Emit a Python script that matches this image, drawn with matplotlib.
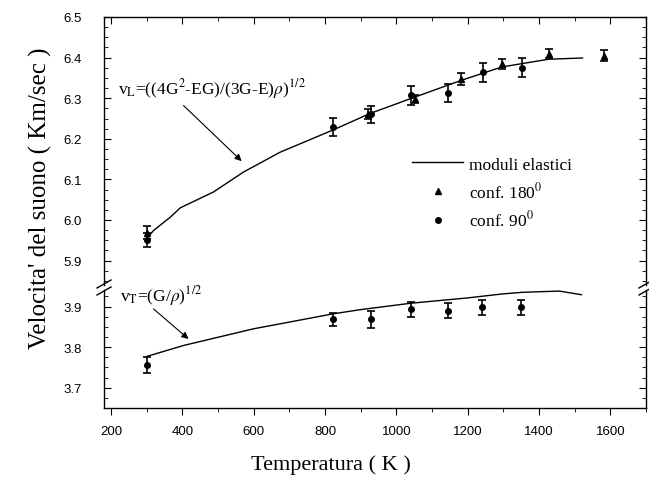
import matplotlib
matplotlib.use("Agg")
import matplotlib.pyplot as plt
from matplotlib.lines import Line2D
from matplotlib.ticker import MultipleLocator, FormatStrFormatter

# ---------------- data ----------------
# longitudinal velocity (upper panel)
curveL_T = [300, 320, 366, 394, 487, 571, 674, 823, 925, 1040, 1182, 1296, 1351, 1427, 1522]
curveL_V = [5.955, 5.975, 6.007, 6.030, 6.069, 6.118, 6.167, 6.222, 6.262, 6.299, 6.344, 6.377, 6.385, 6.396, 6.399]

triL_T = [300, 920, 1053, 1182, 1296, 1427, 1583]
triL_V = [5.968, 6.262, 6.299, 6.348, 6.385, 6.410, 6.405]
triL_E = [0.016, 0.012, 0.010, 0.015, 0.012, 0.012, 0.013]

cirL_T = [300, 823, 930, 1040, 1146, 1242, 1351]
cirL_V = [5.951, 6.229, 6.260, 6.307, 6.313, 6.364, 6.375]
cirL_E = [0.017, 0.022, 0.020, 0.024, 0.022, 0.023, 0.024]

# transverse velocity (lower panel)
curveT_T = [300, 403, 599, 823, 897, 1040, 1198, 1298, 1354, 1457, 1519]
curveT_V = [3.777, 3.804, 3.845, 3.882, 3.892, 3.908, 3.921, 3.931, 3.935, 3.938, 3.929]

cirT_T = [300, 823, 930, 1040, 1146, 1241, 1350]
cirT_V = [3.755, 3.868, 3.868, 3.893, 3.890, 3.898, 3.898]
cirT_E = [0.020, 0.017, 0.020, 0.018, 0.018, 0.018, 0.018]

legend_labels = ['moduli elastici', r'conf. 180$^0$', r'conf. 90$^0$']
label_L = r'v$_\mathrm{L}$=((4G$^2$-EG)/(3G-E)$\rho$)$^{1/2}$'
label_T = r'v$_\mathrm{T}$=(G/$\rho$)$^{1/2}$'

# ---------------- figure ----------------
W, H = 649, 485
fig = plt.figure(figsize=(W / 100, H / 100), dpi=100)
plt.rcParams['mathtext.fontset'] = 'stix'

serif = ['Liberation Serif', 'DejaVu Serif']
tickfont = ['Liberation Sans', 'DejaVu Sans']

left, right = 104, 646
top, brk_up, brk_lo, bottom = 18, 286, 291, 409

def fx(px):
    return px / W

def fy(py):
    return 1 - py / H

axU = fig.add_axes([fx(left), fy(brk_up), fx(right - left), (brk_up - top) / H])
axL = fig.add_axes([fx(left), fy(bottom), fx(right - left), (bottom - brk_lo) / H])

pxpu = 406.0  # pixels per unit velocity
axU.set_ylim(6.5 - (brk_up - top) / pxpu, 6.5)
axL.set_ylim(3.65, 3.65 + (bottom - brk_lo) / pxpu)
for ax in (axU, axL):
    ax.set_xlim(180, 1700)
    ax.yaxis.set_major_locator(MultipleLocator(0.1))
    ax.yaxis.set_minor_locator(MultipleLocator(0.025))
    ax.yaxis.set_major_formatter(FormatStrFormatter('%.1f'))
    ax.xaxis.set_major_locator(MultipleLocator(200))
    ax.xaxis.set_minor_locator(MultipleLocator(100))
    for sp in ax.spines.values():
        sp.set_linewidth(1.0)

axU.spines['bottom'].set_visible(False)
axL.spines['top'].set_visible(False)
axU.tick_params(axis='x', which='both', bottom=False, labelbottom=False, top=True, direction='in')
axU.tick_params(axis='x', which='major', length=5)
axU.tick_params(axis='x', which='minor', length=3)
for ax in (axU, axL):
    ax.tick_params(axis='y', which='both', left=True, right=True, direction='in',
                   labelsize=9.5, pad=16)
    ax.tick_params(axis='y', which='major', length=5)
    ax.tick_params(axis='y', which='minor', length=3)
axL.tick_params(axis='x', which='both', bottom=True, top=False, direction='out',
                labelsize=9.5, pad=7)
axL.tick_params(axis='x', which='major', length=5)
axL.tick_params(axis='x', which='minor', length=3)
for ax in (axU, axL):
    for lab in ax.get_yticklabels() + ax.get_xticklabels():
        lab.set_family(tickfont)

# curves and data
axU.plot(curveL_T, curveL_V, color='black', lw=1.0)
axU.errorbar(triL_T, triL_V, yerr=triL_E, fmt='^', color='black', ms=4,
             capsize=3, elinewidth=1.2, capthick=1.2)
axU.errorbar(cirL_T, cirL_V, yerr=cirL_E, fmt='o', color='black', ms=4,
             capsize=3, elinewidth=1.2, capthick=1.2)
axL.plot(curveT_T, curveT_V, color='black', lw=1.0)
axL.errorbar(cirT_T, cirT_V, yerr=cirT_E, fmt='o', color='black', ms=4,
             capsize=3, elinewidth=1.2, capthick=1.2)

# legend
handles = [Line2D([], [], color='black', lw=1.0),
           Line2D([], [], color='black', marker='^', ls='none', ms=4),
           Line2D([], [], color='black', marker='o', ls='none', ms=4)]
axU.legend(handles, legend_labels, loc='upper left', bbox_to_anchor=(0.569, 0.48),
           frameon=False, prop={'family': serif, 'size': 12.5},
           handlelength=2.9, handletextpad=0.35, labelspacing=0.5,
           borderaxespad=0, borderpad=0)

# annotations
axU.text(220, 6.326, label_L, fontsize=12.5, family=serif, ha='left', va='center')
axU.annotate('', xy=(566, 6.145), xytext=(403, 6.282), textcoords='data',
             arrowprops=dict(arrowstyle='-|>', color='black', lw=0.8,
                             shrinkA=0, shrinkB=0, mutation_scale=10))
axL.text(226, 3.928, label_T, fontsize=12.5, family=serif, ha='left', va='center')
axL.annotate('', xy=(417, 3.82), xytext=(319, 3.894), textcoords='data',
             arrowprops=dict(arrowstyle='-|>', color='black', lw=0.8,
                             shrinkA=0, shrinkB=0, mutation_scale=10))

# axis labels
fig.text(fx(40), fy(198), "Velocita' del suono ( Km/sec )", rotation=90,
         ha='center', va='center', family=serif, fontsize=18)
fig.text(fx(331), fy(465), 'Temperatura ( K )', ha='center', va='center',
         family=serif, fontsize=16)

# break marks
for xs in (left, right):
    for yy in (brk_up - 1, brk_lo + 1):
        fig.add_artist(Line2D([fx(xs - 7), fx(xs + 7)], [fy(yy + 4), fy(yy - 4)],
                              transform=fig.transFigure, color='black', lw=1.0))

fig.savefig('out.png', dpi=100)
